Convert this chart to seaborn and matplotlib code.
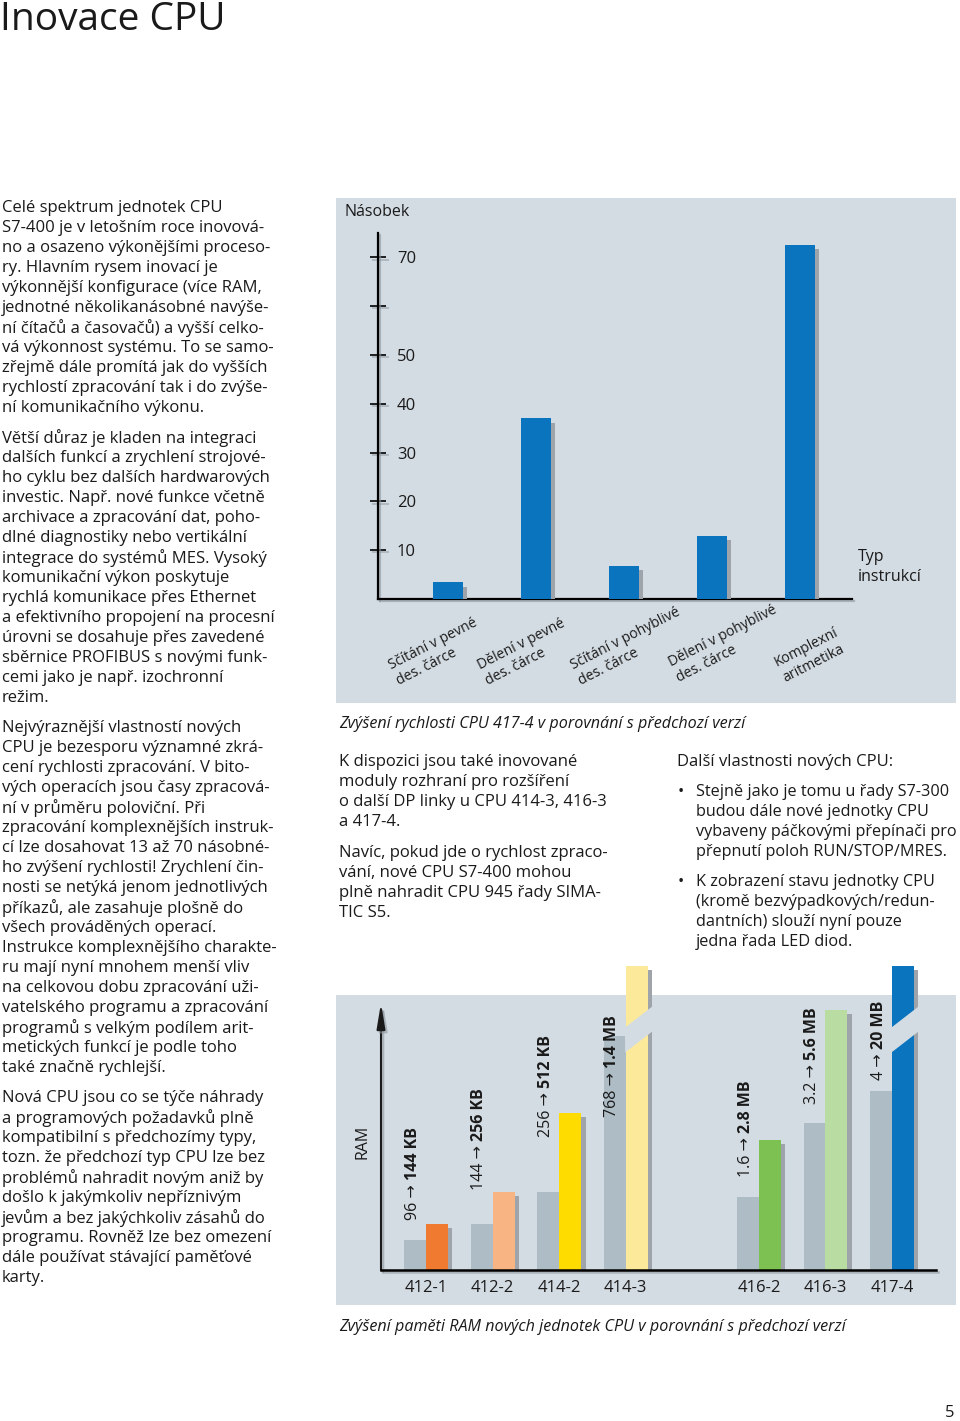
import numpy as np
import pandas as pd
import matplotlib
matplotlib.use("Agg")
import matplotlib.pyplot as plt
import matplotlib.patheffects as pe
from matplotlib.patches import Rectangle, Polygon
from matplotlib.transforms import ScaledTranslation
import seaborn as sns

# ---------------- data ----------------
instr_types = ["Sčítání v pevné\ndes. čárce", "Dělení v pevné\ndes. čárce",
               "Sčítání v pohyblivé\ndes. čárce", "Dělení v pohyblivé\ndes. čárce",
               "Komplexní\naritmetika"]
speedup = [3.4, 37.0, 6.8, 13.0, 72.5]
speed_ticks = [10, 20, 30, 40, 50, 60, 70]
speed_tick_labels = ["10", "20", "30", "40", "50", "", "70"]

cpu_types = ["412-1", "412-2", "414-2", "414-3", "416-2", "416-3", "417-4"]
ram_old_label = ["96", "144", "256", "768", "1.6", "3.2", "4"]
ram_new_label = ["144 KB", "256 KB", "512 KB", "1.4 MB", "2.8 MB", "5.6 MB", "20 MB"]
ram_old_height = [30, 46, 78, 234, 73, 147, 179]
ram_new_height = [46, 78, 157, 304, 130, 260, 304]
ram_new_broken = [False, False, False, True, False, False, True]
ram_new_colors = ["#f07a30", "#f9b484", "#ffdc00", "#fde99a", "#7cc152", "#b9dca3", "#0a74bf"]

# ---------------- style ----------------
sns.set_style("white")
plt.rcParams["font.family"] = ["Open Sans", "DejaVu Sans"]
TXT = "#1a1a1a"
PANEL = "#d4dce3"
OLD = "#adbcc5"
BLUE = "#0a74bf"
SHADOW = "#9ea4aa"
BODY = 12.0

W, H = 960, 1421
fig = plt.figure(figsize=(9.6, 14.21), dpi=100)
fig.patch.set_facecolor("white")


def ax_rect(x0, y0, x1, y1):
    return [x0 / W, 1 - y1 / H, (x1 - x0) / W, (y1 - y0) / H]


def fx(x):
    return x / W


def fy(y):
    return 1 - y / H


def panel(x0, y0, x1, y1):
    fig.patches.append(Rectangle((fx(x0), fy(y1)), (x1 - x0) / W, (y1 - y0) / H,
                                 transform=fig.transFigure, facecolor=PANEL,
                                 edgecolor="none", zorder=-5))


def lines(x, y0, rows, step=20, size=BODY, **kw):
    for i, r in enumerate(rows):
        fig.text(fx(x), fy(y0 + 1 + i * step), r, ha="left", va="center",
                 fontsize=size, color=TXT, **kw)


line_shadow = [pe.SimpleLineShadow(offset=(1.6, -1.6), shadow_color="#8f979e", alpha=0.6), pe.Normal()]

# ---------------- title & body text ----------------
fig.text(fx(0), fy(20), "Inovace CPU", ha="left", va="center", fontsize=28, color=TXT)
fig.text(fx(950), fy(1413), "5", ha="center", va="center", fontsize=12, color=TXT)

lines(2, 207, [
    "Celé spektrum jednotek CPU",
    "S7-400 je v letošním roce inovová-",
    "no a osazeno výkonějšími proceso-",
    "ry. Hlavním rysem inovací je",
    "výkonnější konfigurace (více RAM,",
    "jednotné několikanásobné navýše-",
    "ní čítačů a časovačů) a vyšší celko-",
    "vá výkonnost systému. To se samo-",
    "zřejmě dále promítá jak do vyšších",
    "rychlostí zpracování tak i do zvýše-",
    "ní komunikačního výkonu."])
lines(2, 437, [
    "Větší důraz je kladen na integraci",
    "dalších funkcí a zrychlení strojové-",
    "ho cyklu bez dalších hardwarových",
    "investic. Např. nové funkce včetně",
    "archivace a zpracování dat, poho-",
    "dlné diagnostiky nebo vertikální",
    "integrace do systémů MES. Vysoký",
    "komunikační výkon poskytuje",
    "rychlá komunikace přes Ethernet",
    "a efektivního propojení na procesní",
    "úrovni se dosahuje přes zavedené",
    "sběrnice PROFIBUS s novými funk-",
    "cemi jako je např. izochronní",
    "režim."])
lines(2, 727, [
    "Nejvýraznější vlastností nových",
    "CPU je bezesporu významné zkrá-",
    "cení rychlosti zpracování. V bito-",
    "vých operacích jsou časy zpracová-",
    "ní v průměru poloviční. Při",
    "zpracování komplexnějších instruk-",
    "cí lze dosahovat 13 až 70 násobné-",
    "ho zvýšení rychlosti! Zrychlení čin-",
    "nosti se netýká jenom jednotlivých",
    "příkazů, ale zasahuje plošně do",
    "všech prováděných operací.",
    "Instrukce komplexnějšího charakte-",
    "ru mají nyní mnohem menší vliv",
    "na celkovou dobu zpracování uži-",
    "vatelského programu a zpracování",
    "programů s velkým podílem arit-",
    "metických funkcí je podle toho",
    "také značně rychlejší."])
lines(2, 1097, [
    "Nová CPU jsou co se týče náhrady",
    "a programových požadavků plně",
    "kompatibilní s předchozímy typy,",
    "tozn. že předchozí typ CPU lze bez",
    "problémů nahradit novým aniž by",
    "došlo k jakýmkoliv nepříznivým",
    "jevům a bez jakýchkoliv zásahů do",
    "programu. Rovněž lze bez omezení",
    "dále používat stávající paměťové",
    "karty."])

lines(339, 761, [
    "K dispozici jsou také inovované",
    "moduly rozhraní pro rozšíření",
    "o další DP linky u CPU 414-3, 416-3",
    "a 417-4."])
lines(339, 852, [
    "Navíc, pokud jde o rychlost zpraco-",
    "vání, nové CPU S7-400 mohou",
    "plně nahradit CPU 945 řady SIMA-",
    "TIC S5."])

lines(677, 761, ["Další vlastnosti nových CPU:"])
for yb, rows in [(791, ["Stejně jako je tomu u řady S7-300",
                        "budou dále nové jednotky CPU",
                        "vybaveny páčkovými přepínači pro",
                        "přepnutí poloh RUN/STOP/MRES."]),
                 (881, ["K zobrazení stavu jednotky CPU",
                        "(kromě bezvýpadkových/redun-",
                        "dantních) slouží nyní pouze",
                        "jedna řada LED diod."])]:
    fig.text(fx(678), fy(yb + 1), "•", ha="left", va="center", fontsize=BODY, color=TXT)
    lines(696, yb, rows, size=11.7)

# captions
fig.text(fx(339), fy(724), "Zvýšení rychlosti CPU 417-4 v porovnání s předchozí verzí",
         ha="left", va="center", fontsize=11.6, style="italic", color=TXT)
fig.text(fx(339), fy(1327), "Zvýšení paměti RAM nových jednotek CPU v porovnání s předchozí verzí",
         ha="left", va="center", fontsize=11.6, style="italic", color=TXT)

# ---------------- top chart: speed-up ----------------
panel(336, 198, 956, 703)
ax1 = fig.add_axes(ax_rect(378, 233, 852, 599))
ax1.set_facecolor("none")
df_speed = pd.DataFrame({"typ": instr_types, "nasobek": speedup})
sns.barplot(data=df_speed, x="typ", y="nasobek", color=BLUE, saturation=1,
            width=0.34, linewidth=0, ax=ax1, zorder=3)
for p in ax1.patches:
    p.set_path_effects([pe.SimplePatchShadow(offset=(3, -3), shadow_rgbFace=SHADOW, alpha=1),
                        pe.Normal()])
ax1.set_xlim(-0.795, 4.59)
ax1.set_ylim(0, 75)
ax1.set_xlabel("")
ax1.set_ylabel("")
for s in ["top", "right"]:
    ax1.spines[s].set_visible(False)
for s in ["left", "bottom"]:
    ax1.spines[s].set_color("black")
    ax1.spines[s].set_linewidth(1.6)
    ax1.spines[s].set_path_effects(line_shadow)
ax1.set_yticks(speed_ticks, speed_tick_labels)
ax1.tick_params(axis="y", direction="inout", length=12, width=1.2, color="black",
                labelsize=12, pad=-19.5, labelcolor=TXT, left=True)
for lab in ax1.get_yticklabels():
    lab.set_ha("left")
for tl in ax1.yaxis.get_ticklines():
    tl.set_path_effects(line_shadow)

# rotated category labels: last-line baseline start, offset from bar centre (px)
label_shift = [(-50, 84), (-49, 84), (-44, 84), (-34, 81), (-16, 81)]
ax1.tick_params(axis="x", length=0, pad=0, labelsize=10.1, labelcolor=TXT)
for lab, (dx, dy) in zip(ax1.get_xticklabels(), label_shift):
    lab.set_rotation(27)
    lab.set_ha("left")
    lab.set_va("baseline")
    lab.set_multialignment("left")
    lab.set_rotation_mode("anchor")
    lab.set_linespacing(1.25)
    lab.set_transform(lab.get_transform() +
                      ScaledTranslation(dx / 100, -dy / 100, fig.dpi_scale_trans))
ax1.grid(False)

fig.text(fx(345), fy(212), "Násobek", ha="left", va="center", fontsize=11.5, color=TXT)
fig.text(fx(858), fy(557), "Typ", ha="left", va="center", fontsize=11.5, color=TXT)
fig.text(fx(858), fy(577), "instrukcí", ha="left", va="center", fontsize=11.5, color=TXT)

# ---------------- bottom chart: RAM ----------------
panel(336, 995, 956, 1305)
ax2 = fig.add_axes(ax_rect(381, 960, 936, 1270))
ax2.set_facecolor("none")
order = cpu_types[:4] + [" "] + cpu_types[4:]
df_ram = pd.DataFrame({
    "cpu": cpu_types * 2,
    "verze": ["old"] * len(cpu_types) + ["new"] * len(cpu_types),
    "ram": ram_old_height + ram_new_height,
})
sns.barplot(data=df_ram, x="cpu", y="ram", hue="verze", order=order,
            hue_order=["old", "new"], palette={"old": OLD, "new": "#888888"},
            saturation=1, width=0.66, gap=0, linewidth=0, dodge=True,
            legend=False, ax=ax2)
old_bars = sorted(ax2.containers[0].patches, key=lambda p: p.get_x())
new_bars = sorted(ax2.containers[1].patches, key=lambda p: p.get_x())
for p in old_bars:
    p.set_zorder(2)
for p, c, brk in zip(new_bars, ram_new_colors, ram_new_broken):
    p.set_facecolor(c)
    p.set_zorder(3)
    p.set_path_effects([pe.SimplePatchShadow(offset=(3.2, -3.2), shadow_rgbFace=SHADOW, alpha=1),
                        pe.Normal()])
    if brk:
        x0 = p.get_x()
        w = p.get_width()
        xl, xr = x0 - 0.01, x0 + w + 0.1

        def yv(x, base, x0=x0, w=w):
            return base + 17 * (x - x0) / w
        gap_poly = Polygon([(xl, yv(xl, 218)), (xr, yv(xr, 218)),
                            (xr, yv(xr, 243)), (xl, yv(xl, 243))],
                           closed=True, facecolor=PANEL, edgecolor="none", zorder=4)
        ax2.add_patch(gap_poly)

ax2.set_xlim(-0.676, 7.66)
ax2.set_ylim(0, 310)
ax2.set_xlabel("")
ax2.set_ylabel("")
for s in ["top", "right", "left"]:
    ax2.spines[s].set_visible(False)
ax2.spines["bottom"].set_color("black")
ax2.spines["bottom"].set_linewidth(1.8)
ax2.spines["bottom"].set_path_effects(line_shadow)
ax2.spines["bottom"].set_zorder(5)
ax2.set_yticks([])
ax2.tick_params(axis="x", length=0, pad=7, labelsize=12, labelcolor=TXT)
ax2.grid(False)

ax2.annotate("", xy=(0, 267), xytext=(0, 0), xycoords=("axes fraction", "data"),
             textcoords=("axes fraction", "data"),
             arrowprops=dict(arrowstyle="-|>,head_length=1.5,head_width=0.25", lw=1.5,
                             color=TXT, shrinkA=0, shrinkB=0,
                             path_effects=line_shadow))
fig.text(fx(362), fy(1142), "RAM", ha="center", va="center", rotation=90, fontsize=11.5, color=TXT)

# value labels (old -> new)
label_base = [50, 80, 133, 153, 93, 166, 190]
positions = [order.index(c) for c in cpu_types]
for pos, lo, hi, yb in zip(positions, ram_old_label, ram_new_label, label_base):
    t1 = ax2.text(pos - 0.2, yb, f"{lo} → ", rotation=90, ha="center", va="bottom",
                  fontsize=11.5, color=TXT, zorder=6)
    ax2.annotate(hi, xy=(0.5, 1.0), xycoords=t1, rotation=90, ha="center", va="bottom",
                 fontsize=11.5, fontweight="bold", color=TXT, zorder=6)

fig.savefig("out.png", dpi=100, facecolor="white")
